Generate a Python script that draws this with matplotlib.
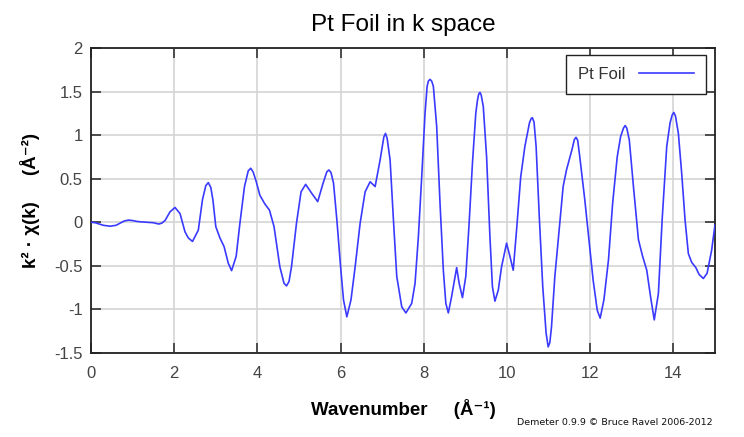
import matplotlib
matplotlib.use("Agg")
import matplotlib.pyplot as plt

plt.rcParams["font.family"] = ["Liberation Sans", "DejaVu Sans"]

# k (1/Angstrom) and k^2-weighted chi(k) for the Pt foil
k = [0.00, 0.10, 0.20, 0.30, 0.46, 0.60, 0.70, 0.80, 0.90, 1.00, 1.10, 1.20, 1.34, 1.50,
     1.63, 1.70, 1.78, 1.90, 2.02, 2.14, 2.26,
     2.34, 2.44, 2.58, 2.68, 2.76, 2.82, 2.88, 2.93, 3.00, 3.10, 3.20, 3.30, 3.38, 3.49,
     3.58, 3.69, 3.78, 3.84, 3.90, 3.97, 4.06, 4.18, 4.29, 4.40, 4.54, 4.64, 4.70, 4.76,
     4.82, 4.94, 5.05, 5.16, 5.31, 5.45, 5.58, 5.67, 5.72, 5.77, 5.83, 5.91, 6.00, 6.07,
     6.15, 6.25, 6.35, 6.47, 6.59, 6.71, 6.83, 6.95, 7.04, 7.08, 7.12, 7.19, 7.27, 7.35,
     7.47, 7.57, 7.71, 7.79, 7.87, 7.95, 8.03, 8.08, 8.11, 8.15, 8.19, 8.23, 8.31, 8.39,
     8.47, 8.53, 8.59, 8.67, 8.79, 8.85, 8.93, 9.01, 9.09, 9.17, 9.25, 9.29, 9.32, 9.35,
     9.38, 9.43, 9.51, 9.59, 9.65, 9.71, 9.79, 9.87, 9.99, 10.07, 10.15, 10.23, 10.33,
     10.43, 10.54, 10.58, 10.61, 10.65, 10.70, 10.78, 10.86, 10.94, 10.99, 11.03, 11.07,
     11.15, 11.26, 11.35, 11.43, 11.56, 11.62, 11.66, 11.70, 11.75, 11.87, 11.98, 12.07,
     12.17, 12.24, 12.33, 12.44, 12.54, 12.65, 12.73, 12.80, 12.84, 12.88, 12.94, 13.04,
     13.16, 13.26, 13.36, 13.45, 13.54, 13.64, 13.73, 13.84, 13.92, 13.97, 14.01, 14.05,
     14.12, 14.20, 14.28, 14.36, 14.44, 14.54, 14.62, 14.72, 14.81, 14.92, 15.00]
chi_k2 = [0.000, -0.005, -0.020, -0.035, -0.045, -0.035, -0.010, 0.015, 0.025, 0.020,
          0.010, 0.005, 0.000, -0.005, -0.020, -0.010, 0.020, 0.120,
          0.170, 0.100, -0.110, -0.180, -0.220, -0.090, 0.260, 0.420, 0.455, 0.400, 0.260,
          -0.050, -0.180, -0.280, -0.470, -0.555, -0.390, -0.010, 0.410, 0.590, 0.620, 0.575,
          0.470, 0.310, 0.210, 0.140, -0.050, -0.510, -0.700, -0.730, -0.680, -0.510, -0.010,
          0.350, 0.435, 0.330, 0.237, 0.450, 0.580, 0.600, 0.570, 0.450, 0.030, -0.510,
          -0.890, -1.085, -0.890, -0.510, -0.010, 0.350, 0.465, 0.410, 0.715, 0.980, 1.020,
          0.960, 0.715, 0.030, -0.620, -0.970, -1.040, -0.930, -0.700, -0.165, 0.520, 1.250,
          1.560, 1.620, 1.640, 1.620, 1.560, 1.100, 0.220, -0.550, -0.930, -1.040, -0.850,
          -0.520, -0.700, -0.865, -0.620, -0.010, 0.680, 1.250, 1.400, 1.470, 1.490, 1.460,
          1.330, 0.750, -0.165, -0.740, -0.905, -0.780, -0.510, -0.240, -0.390, -0.550,
          -0.090, 0.520, 0.870, 1.140, 1.190, 1.200, 1.150, 0.870, 0.030, -0.740, -1.270,
          -1.430, -1.380, -1.200, -0.625, -0.050, 0.410, 0.600, 0.830, 0.950, 0.975, 0.940,
          0.750, 0.260, -0.240, -0.660, -1.010, -1.100, -0.890, -0.430, 0.220, 0.750, 0.980,
          1.080, 1.110, 1.080, 0.945, 0.410, -0.200, -0.390, -0.550, -0.850, -1.120, -0.815,
          0.030, 0.870, 1.140, 1.230, 1.260, 1.220, 1.020, 0.560, 0.030, -0.360, -0.460,
          -0.520, -0.600, -0.645, -0.585, -0.320, -0.030]

x_ticks = [0, 2, 4, 6, 8, 10, 12, 14]
x_tick_labels = ["0", "2", "4", "6", "8", "10", "12", "14"]
y_ticks = [-1.5, -1, -0.5, 0, 0.5, 1, 1.5, 2]
y_tick_labels = ["-1.5", "-1", "-0.5", "0", "0.5", "1", "1.5", "2"]

fig = plt.figure(figsize=(7.44, 4.37), dpi=100)
ax = fig.add_axes([0.1223, 0.1922, 0.8387, 0.698])

ax.plot(k, chi_k2, color="#3a3aff", lw=1.2, label="Pt Foil", zorder=3)

ax.set_xlim(0, 15)
ax.set_ylim(-1.5, 2)
ax.set_xticks(x_ticks)
ax.set_xticklabels(x_tick_labels)
ax.set_yticks(y_ticks)
ax.set_yticklabels(y_tick_labels)

ax.grid(True, color="#d4d4d4", lw=1.2, zorder=0)
ax.tick_params(direction="in", length=7, width=1.2, color="#333333",
               top=True, right=True, labelsize=12, labelcolor="#444444", pad=6)
ax.tick_params(axis="x", pad=9)
for s in ax.spines.values():
    s.set_color("#222222")
    s.set_linewidth(1.3)

ax.set_title("Pt Foil in k space", fontsize=17.5, pad=12)
ax.set_xlabel("Wavenumber     (Å⁻¹)", fontsize=13.5, fontweight="bold", labelpad=13)
ax.set_ylabel("k² · χ(k)     (Å⁻²)", fontsize=13.5, fontweight="bold", labelpad=10)

leg = ax.legend(loc="upper right", bbox_to_anchor=(0.9855, 0.978), markerfirst=False,
                fancybox=False, edgecolor="#222222", framealpha=1, fontsize=12,
                handlelength=3.3, borderpad=0.72, handletextpad=0.8, borderaxespad=0)
leg.get_frame().set_linewidth(1.0)
for t in leg.get_texts():
    t.set_color("#333333")

fig.text(0.958, 0.022, "Demeter 0.9.9 © Bruce Ravel 2006-2012", ha="right",
         va="bottom", fontsize=6.8, color="#111111", family="DejaVu Sans")

fig.savefig("out.png", dpi=100)
